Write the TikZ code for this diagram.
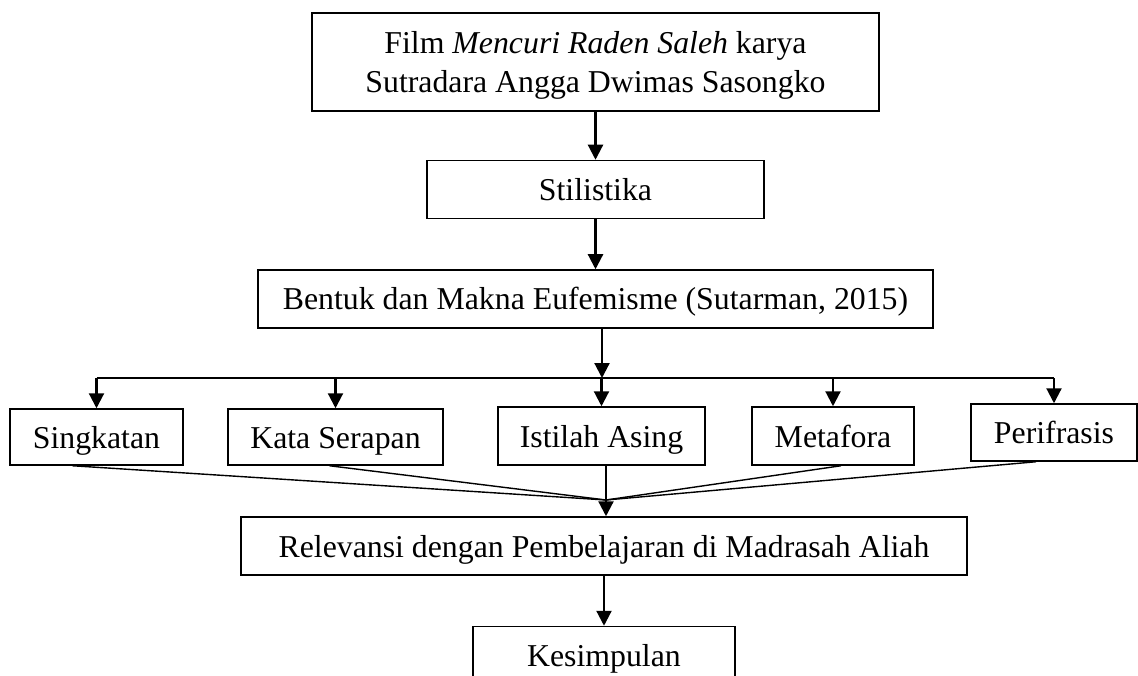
\documentclass[tikz,border=0pt]{standalone}
\usepackage{fontspec}
\setmainfont{Liberation Serif}
\usetikzlibrary{arrows.meta,positioning}
\tikzset{
    box/.style={
        draw,line width=1.5pt,inner sep=0pt,
        minimum width=#1,minimum height=58pt,
        text height=22pt,text depth=0pt,align=center,
        font=\fontsize{31.8}{39}\selectfont
    },
    box/.default=200pt,
    arrow/.style={
        -{Triangle[length=15pt,width=15pt]},line width=2.2pt
    },
    branch/.style={line width=2.2pt},
    link/.style={line width=1.4pt}
}

\begin{document}
\begin{tikzpicture}[x=1pt,y=1pt]
\useasboundingbox (0,0) rectangle (1138,-676);
\clip (0,0) rectangle (1138,-676);

% main chain
\node[box=567pt,minimum height=98pt,text height=61pt] (film) at (595.5,-62)
{Film \emph{Mencuri Raden Saleh} karya\\Sutradara Angga Dwimas Sasongko};
\node[box=337pt,below=48pt of film] (stil) {Stilistika};
\node[box=675pt,below=50pt of stil] (bentuk) {Bentuk dan Makna Eufemisme (Sutarman, 2015)};

% forms of euphemism
\node[box=173pt,minimum height=56pt] (singk) at (96.5,-437) {Singkatan};
\node[box=215pt,minimum height=56pt] (kata) at (335.5,-437) {Kata Serapan};
\node[box=207pt] (istilah) at (601.5,-436) {Istilah Asing};
\node[box=162pt] (meta) at (833,-436) {Metafora};
\node[box=166pt,minimum height=57pt] (peri) at (1054,-432.5) {Perifrasis};

\node[box=726pt] (relev) at (604,-546) {Relevansi dengan Pembelajaran di Madrasah Aliah};
\node[box=262pt,below=50pt of relev] (kes) {Kesimpulan};

\coordinate (split) at (602,-378);
\coordinate (join) at (606,-500);

\draw[arrow](film)--(stil);
\draw[arrow](stil)--(bentuk);
\draw[arrow](bentuk.south -| split)--(split);
\draw[branch](split -| singk.north)--(split -| peri.north);
\foreach \n in {singk,kata,istilah,meta,peri}
    \draw[arrow](split -| \n.north)--(\n.north);

\foreach \n/\dx in {singk/-24,kata/-6,meta/8,peri/-18}
    \draw[link]([xshift=\dx pt]\n.south)--(join);
\draw[arrow](join |- istilah.south)--(join |- relev.north);
\draw[arrow](relev.south -| kes.north)--(kes.north);

\end{tikzpicture}
\end{document}
